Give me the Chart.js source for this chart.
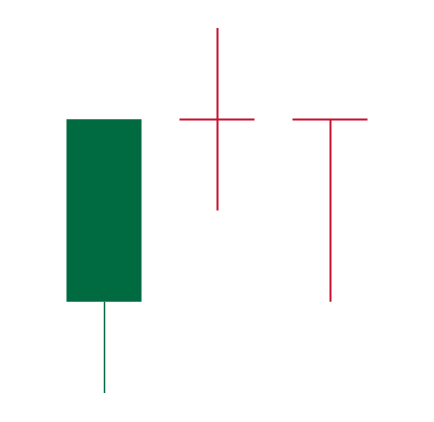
<!DOCTYPE html>
<html>
<head>
<meta charset="utf-8">
<script src="https://cdn.jsdelivr.net/npm/chart.js@4/dist/chart.umd.min.js"></script>
<style>
html,body{margin:0;padding:0;background:#fff;}
#wrap{width:434px;height:422px;}
</style>
</head>
<body>
<div id="wrap"><canvas id="c" width="434" height="422"></canvas></div>
<script>
const categories = ['1', '2', '3'];
const opens  = [1, 3, 3];
const closes = [3, 3, 3];
const highs  = [3, 4, 3];
const lows   = [0, 2, 1];

const UP = '#006A40';
const DOWN = '#C8102E';
const colorFor = i => closes[i] > opens[i] ? UP : DOWN;
const BAR_PCT = 0.664;

const candlePlugin = {
  id: 'candles',
  beforeDatasetsDraw(chart) {
    const ctx = chart.ctx, x = chart.scales.x, y = chart.scales.y;
    ctx.save();
    categories.forEach((c, i) => {
      const cx = Math.round(x.getPixelForValue(i)) + 0.5;
      const top = Math.max(opens[i], closes[i]);
      const bot = Math.min(opens[i], closes[i]);
      ctx.strokeStyle = colorFor(i);
      ctx.lineWidth = closes[i] > opens[i] ? 1.5 : 2;
      ctx.beginPath();
      if (highs[i] > top) {
        ctx.moveTo(cx, y.getPixelForValue(highs[i]));
        ctx.lineTo(cx, y.getPixelForValue(top));
      }
      if (lows[i] < bot) {
        ctx.moveTo(cx, y.getPixelForValue(bot));
        ctx.lineTo(cx, y.getPixelForValue(lows[i]));
      }
      ctx.stroke();
    });
    ctx.restore();
  },
  afterDatasetsDraw(chart) {
    const ctx = chart.ctx, x = chart.scales.x, y = chart.scales.y;
    const w = (x.getPixelForValue(1) - x.getPixelForValue(0)) * BAR_PCT;
    ctx.save();
    categories.forEach((c, i) => {
      if (opens[i] !== closes[i]) return;
      const cx = x.getPixelForValue(i);
      const py = Math.round(y.getPixelForValue(opens[i])) + 0.5;
      ctx.strokeStyle = colorFor(i);
      ctx.lineWidth = 2;
      ctx.beginPath();
      ctx.moveTo(cx - w / 2, py);
      ctx.lineTo(cx + w / 2, py);
      ctx.stroke();
    });
    ctx.restore();
  }
};

new Chart(document.getElementById('c'), {
  type: 'bar',
  data: {
    labels: categories,
    datasets: [{
      data: opens.map((o, i) => [o, closes[i]]),
      backgroundColor: categories.map((c, i) => colorFor(i)),
      borderWidth: 0,
      categoryPercentage: 1,
      barPercentage: BAR_PCT
    }]
  },
  options: {
    responsive: false,
    animation: false,
    layout: { padding: { left: 47.5, right: 47.5, top: 28, bottom: 29 } },
    plugins: { legend: { display: false }, tooltip: { enabled: false } },
    scales: {
      x: { display: false, offset: true },
      y: { display: false, min: 0, max: 4 }
    }
  },
  plugins: [candlePlugin]
});
</script>
</body>
</html>
